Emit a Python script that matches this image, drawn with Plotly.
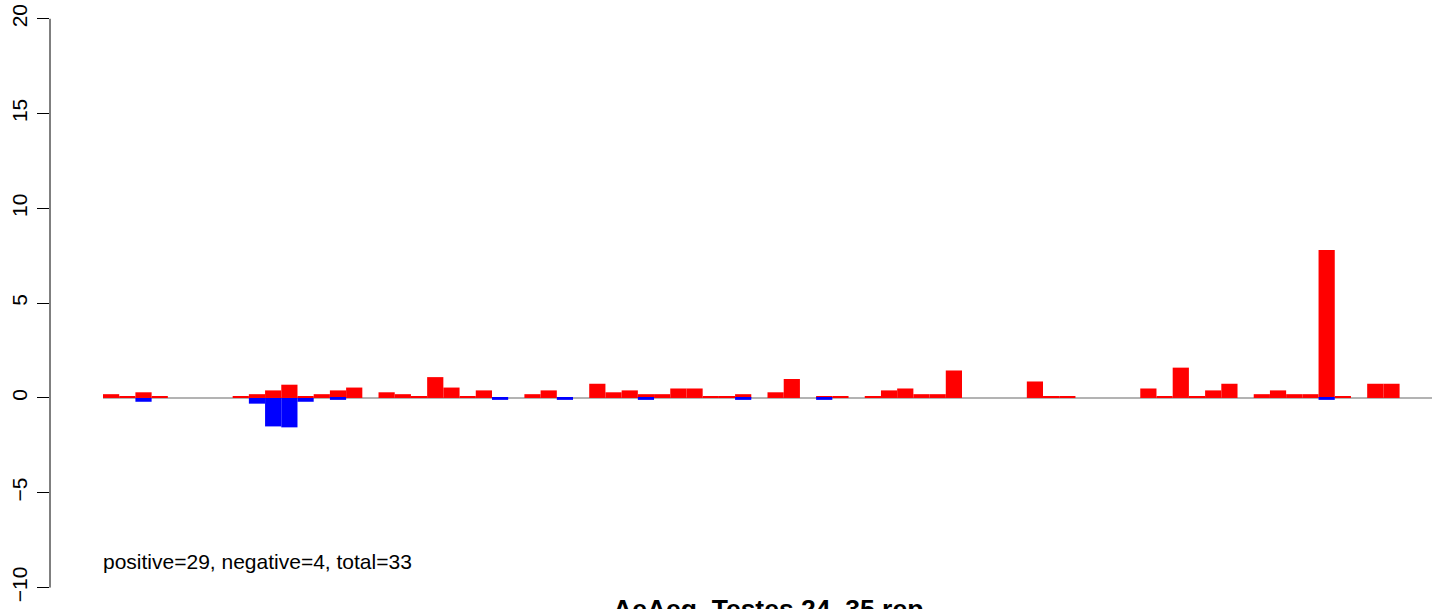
import plotly.graph_objects as go

# per-position values (82 positions, last two empty)
positive = [0.2, 0.1, 0.3, 0.1, 0, 0, 0, 0, 0.1, 0.2,
            0.4, 0.7, 0.1, 0.2, 0.4, 0.55, 0, 0.3, 0.2, 0.1,
            1.1, 0.55, 0.1, 0.4, 0, 0, 0.2, 0.4, 0, 0,
            0.75, 0.3, 0.4, 0.2, 0.2, 0.5, 0.5, 0.1, 0.1, 0.2,
            0, 0.3, 1.0, 0, 0.1, 0.1, 0, 0.1, 0.4, 0.5,
            0.2, 0.2, 1.45, 0, 0, 0, 0, 0.87, 0.1, 0.1,
            0, 0, 0, 0, 0.5, 0.1, 1.6, 0.1, 0.4, 0.75,
            0, 0.2, 0.4, 0.2, 0.2, 7.8, 0.1, 0, 0.75, 0.75,
            0, 0]
negative = [0, 0, -0.2, 0, 0, 0, 0, 0, 0, -0.3,
            -1.5, -1.55, -0.2, 0, -0.1, 0, 0, 0, 0, 0,
            0, 0, 0, 0, -0.1, 0, 0, 0, -0.1, 0,
            0, 0, 0, -0.1, 0, 0, 0, 0, 0, -0.1,
            0, 0, 0, 0, -0.1, 0, 0, 0, 0, 0,
            0, 0, 0, 0, 0, 0, 0, 0, 0, 0,
            0, 0, 0, 0, 0, 0, 0, 0, 0, 0,
            0, 0, 0, 0, 0, -0.1, 0, 0, 0, 0,
            0, 0]
positions = [i + 0.5 for i in range(len(positive))]

y_ticks = [-10, -5, 0, 5, 10, 15, 20]
y_labels = ["\u221210", "\u22125", "0", "5", "10", "15", "20"]

summary = "positive=29, negative=4, total=33"
title = "AeAeg_Testes 24_35 rep"

FONT = "Liberation Sans, Arial, sans-serif"

fig = go.Figure()
fig.add_trace(go.Bar(x=positions, y=positive, width=1,
                     marker=dict(color="#ff0000", line=dict(width=0))))
fig.add_trace(go.Bar(x=positions, y=negative, width=1,
                     marker=dict(color="#0000ff", line=dict(width=0))))

# zero line under the bars
fig.add_shape(type="line", x0=0, x1=len(positive), y0=0, y1=0,
              line=dict(color="#9a9a9a", width=1.5), layer="below")
# y axis line only from -10 to 20, as in base R
fig.add_shape(type="line", xref="paper", x0=0, x1=0, y0=-10, y1=20,
              line=dict(color="black", width=1))

fig.add_annotation(x=0, y=-8.64, xshift=-2, text=summary, showarrow=False,
                   xanchor="left", yanchor="middle",
                   font=dict(family=FONT, size=21, color="black"))
# main title sits under the plot and runs off the bottom edge, as in the source
fig.add_annotation(x=len(positive) / 2, yref="paper", y=0,
                   text="<b>" + title + "</b>",
                   showarrow=False, xanchor="center", yanchor="middle",
                   font=dict(family=FONT, size=26.5, color="black"))

fig.update_xaxes(range=[-3.27, 82.74], visible=False, showgrid=False,
                 zeroline=False, automargin=False)
fig.update_yaxes(range=[-11.13, 20.99], tickvals=y_ticks, ticktext=y_labels,
                 ticks="outside", ticklen=12, tickcolor="black", tickwidth=1,
                 tickangle=-90, showgrid=False, zeroline=False, showline=False,
                 automargin=False, ticklabelstandoff=2, ticklabeloverflow="allow",
                 tickfont=dict(family=FONT, size=21, color="black"))

fig.update_layout(width=1444, height=609, barmode="overlay", showlegend=False,
                  plot_bgcolor="white", paper_bgcolor="white",
                  margin=dict(l=50, r=0, t=0, b=0, pad=0))

# drop the default 8px body margin so the figure fills the window
fig.write_html("out.html", config={"displayModeBar": False},
               post_script="document.body.style.margin = '0';")
